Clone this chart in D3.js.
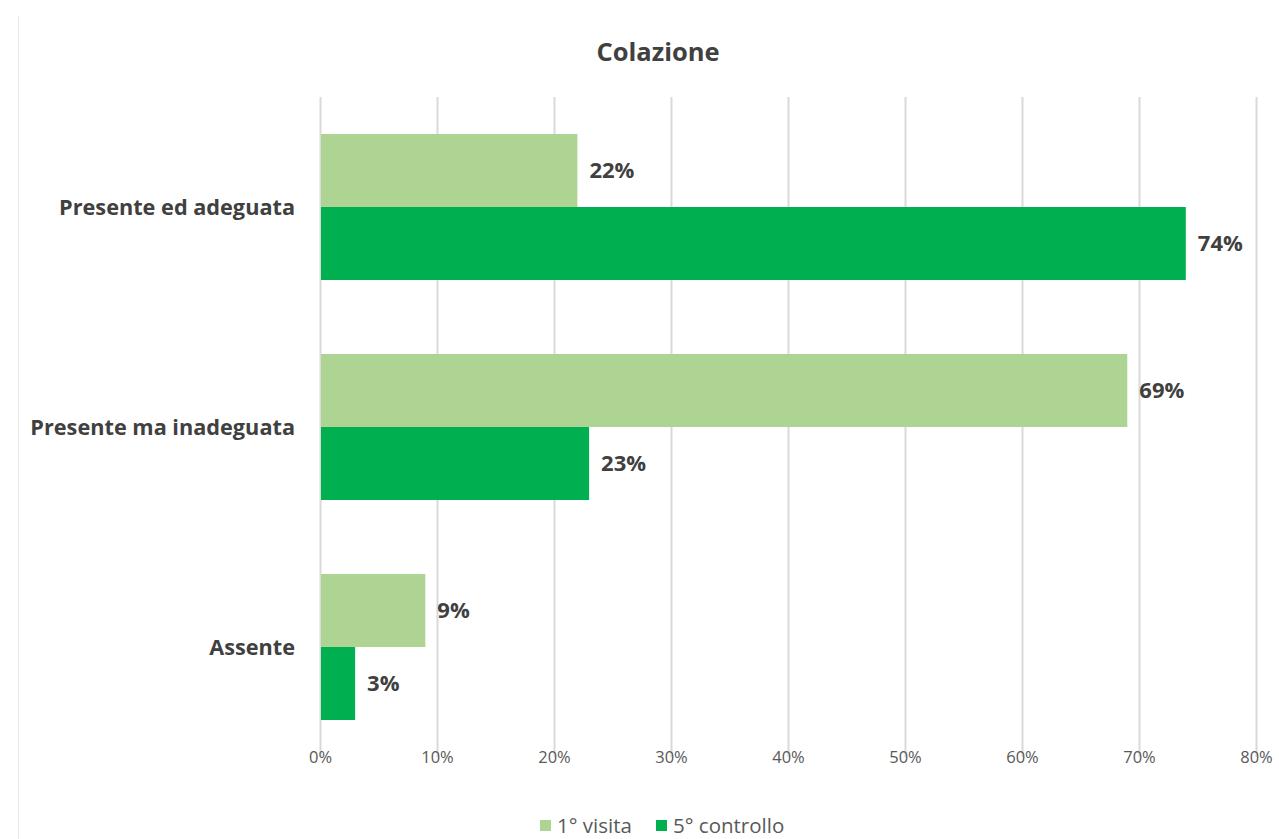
<!DOCTYPE html>
<html>
<head>
<meta charset="utf-8">
<script src="https://cdn.jsdelivr.net/npm/d3@7"></script>
<style>
  html, body { margin: 0; padding: 0; background: #ffffff; }
  svg { display: block; }
</style>
</head>
<body>
<svg id="chart" width="1279" height="839"></svg>
<script>
// Colazione: share of patients by breakfast habit, first visit vs fifth check-up
const categories = ["Presente ed adeguata", "Presente ma inadeguata", "Assente"];
const seriesNames = ["1° visita", "5° controllo"];
const primaVisita = [22, 69, 9];
const quintoControllo = [74, 23, 3];
const tickValues = [0, 10, 20, 30, 40, 50, 60, 70, 80];
const colors = ["#AED494", "#00B050"];

const svg = d3.select("#chart");
const font = "'Open Sans', sans-serif";

const rows = categories.map((c, i) => ({ cat: c, values: [primaVisita[i], quintoControllo[i]] }));

const plot = { left: 320, right: 1256, top: 97, bottom: 757 };

const x = d3.scaleLinear().domain([0, 80]).range([plot.left, plot.right]);
const y = d3.scaleBand().domain(categories).range([plot.top, plot.bottom]);
const ySub = d3.scaleBand().domain([0, 1]).range([37, y.bandwidth() - 37]);

// outer frame line on the left
svg.append("line")
  .attr("x1", 18.5).attr("x2", 18.5).attr("y1", 16).attr("y2", 839)
  .attr("stroke", "#e6e6e6").attr("stroke-width", 1);

// vertical gridlines
svg.append("g").selectAll("line").data(tickValues).join("line")
  .attr("x1", d => Math.round(x(d)) + 0.5).attr("x2", d => Math.round(x(d)) + 0.5)
  .attr("y1", plot.top).attr("y2", plot.bottom)
  .attr("stroke", "#d9d9d9").attr("stroke-width", 2);

// x axis tick labels
const xAxis = d3.axisBottom(x).tickValues(tickValues).tickFormat(d => d + "%").tickSize(0).tickPadding(0);
const gx = svg.append("g").attr("transform", `translate(0,${plot.bottom})`).call(xAxis);
gx.select(".domain").remove();
gx.selectAll("text")
  .attr("dy", null).attr("y", 6)
  .attr("font-family", font).attr("font-size", 16.5).attr("fill", "#595959");

// bars
const groups = svg.append("g").selectAll("g").data(rows).join("g")
  .attr("transform", d => `translate(0,${y(d.cat)})`);

groups.selectAll("rect").data(d => d.values.map((v, j) => ({ v, j }))).join("rect")
  .attr("x", x(0) + 1)
  .attr("y", d => ySub(d.j))
  .attr("width", d => x(d.v) - x(0) - 1)
  .attr("height", ySub.bandwidth())
  .attr("fill", d => colors[d.j]);

groups.selectAll("text.val").data(d => d.values.map((v, j) => ({ v, j }))).join("text")
  .attr("class", "val")
  .attr("x", d => x(d.v) + 12)
  .attr("y", d => ySub(d.j) + ySub.bandwidth() / 2)
  .attr("dy", "0.35em")
  .attr("font-family", font).attr("font-weight", 700).attr("font-size", 22)
  .attr("fill", "#404040")
  .text(d => d.v + "%");

// category labels
svg.append("g").selectAll("text").data(categories).join("text")
  .attr("x", 295)
  .attr("y", d => y(d) + y.bandwidth() / 2)
  .attr("dy", "0.35em")
  .attr("text-anchor", "end")
  .attr("font-family", font).attr("font-weight", 700).attr("font-size", 21.7)
  .attr("fill", "#404040")
  .text(d => d);

// title
svg.append("text")
  .attr("x", 658).attr("y", 61)
  .attr("text-anchor", "middle")
  .attr("font-family", font).attr("font-weight", 700).attr("font-size", 25.5)
  .attr("fill", "#404040")
  .text("Colazione");

// legend
const legend = svg.append("g");
const legendItems = [{ name: seriesNames[0], x: 540 }, { name: seriesNames[1], x: 656 }];
legendItems.forEach((it, i) => {
  legend.append("rect")
    .attr("x", it.x).attr("y", 820).attr("width", 11).attr("height", 11)
    .attr("fill", colors[i]);
  legend.append("text")
    .attr("x", it.x + 17).attr("y", 826).attr("dy", "0.35em")
    .attr("font-family", font).attr("font-size", 20.5).attr("fill", "#595959")
    .text(it.name);
});
</script>
</body>
</html>
